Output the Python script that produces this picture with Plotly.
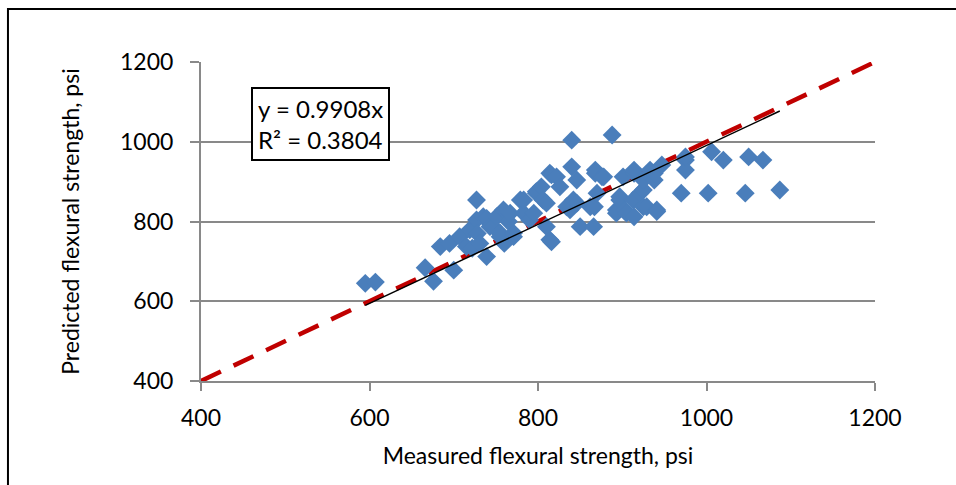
import plotly.graph_objects as go

measured = [595, 607, 666, 676, 684, 695, 700, 707, 715, 719, 722, 727, 727, 728, 731, 735,
            739, 739, 743, 747, 751, 755, 755, 759, 760, 765, 767, 771, 771, 779, 783, 783,
            790, 795, 798, 798, 804, 806, 810, 810, 814, 816, 814, 816, 822, 826, 834, 838,
            840, 840, 842, 846, 846, 850, 862, 866, 867, 868, 868, 870, 876, 878, 888, 893,
            893, 897, 897, 901, 903, 905, 913, 914, 914, 914, 921, 925, 925, 925, 929, 933,
            938, 938, 941, 941, 947, 970, 975, 975, 975, 1002, 1006, 1020, 1046, 1050, 1067, 1087]
predicted = [645, 648, 684, 650, 737, 745, 678, 762, 737, 779, 733, 854, 804, 770, 745, 812,
             712, 808, 787, 787, 812, 762, 771, 829, 745, 800, 821, 762, 771, 854, 821, 854,
             804, 821, 871, 875, 887, 854, 846, 787, 754, 749, 921, 917, 912, 887, 837, 829,
             1004, 937, 854, 904, 846, 787, 837, 787, 837, 929, 921, 871, 912, 912, 1017, 829,
             821, 854, 862, 912, 829, 821, 854, 812, 921, 929, 871, 837, 879, 904, 837, 929,
             904, 921, 829, 825, 942, 871, 954, 929, 962, 871, 975, 954, 871, 962, 954, 879]

slope = 0.9908
r2 = 0.3804
x_ticks = [400, 600, 800, 1000, 1200]
y_ticks = [400, 600, 800, 1000, 1200]
axis_range = [400, 1200]

FONT = "Lato"
FS = 23
GRID = "#898989"

fig = go.Figure()

# 1:1 line (red dashed)
fig.add_trace(go.Scatter(
    x=axis_range, y=axis_range, mode="lines",
    line=dict(color="#C00000", width=4.5, dash="22px,14px"),
    hoverinfo="skip", showlegend=False))

# data points
fig.add_trace(go.Scatter(
    x=measured, y=predicted, mode="markers",
    marker=dict(symbol="diamond", size=14.5, color="#4A7EBB", line=dict(width=0)),
    showlegend=False))

# linear trendline through origin
x_lo, x_hi = min(measured), max(measured)
fig.add_trace(go.Scatter(
    x=[x_lo, x_hi], y=[slope * x_lo, slope * x_hi], mode="lines",
    line=dict(color="black", width=1.5),
    hoverinfo="skip", showlegend=False))

fig.update_layout(
    width=956, height=485,
    margin=dict(l=201, r=81, t=62, b=104),
    paper_bgcolor="white", plot_bgcolor="white",
    font=dict(family=FONT, size=FS, color="black"),
    xaxis=dict(range=axis_range, tickvals=x_ticks, showgrid=False, zeroline=False,
               showline=True, linecolor=GRID, linewidth=2,
               ticks="outside", ticklen=8, tickcolor=GRID, tickwidth=2,
               ticklabelstandoff=7,
               tickfont=dict(family=FONT, size=FS),
               title=dict(text="Measured flexural strength, psi", font=dict(family=FONT, size=FS),
                          standoff=18)),
    yaxis=dict(range=axis_range, tickvals=y_ticks, showgrid=True, gridcolor=GRID, gridwidth=2,
               zeroline=False, showline=True, linecolor=GRID, linewidth=2,
               ticks="outside", ticklen=9, tickcolor=GRID, tickwidth=2,
               ticklabelstandoff=12,
               tickfont=dict(family=FONT, size=FS),
               title=dict(text="Predicted flexural strength, psi", font=dict(family=FONT, size=FS),
                          standoff=34)),
    annotations=[dict(
        x=0.178, y=0.807, xref="paper", yref="paper", xanchor="center", yanchor="middle",
        text=f"y = {slope}x<br>R² = {r2}", showarrow=False, align="left",
        font=dict(family=FONT, size=24, color="black"),
        bordercolor="black", borderwidth=2, borderpad=5, bgcolor="white")],
    shapes=[dict(type="rect", xref="paper", yref="paper",
                 x0=-0.2864, x1=1.2, y0=-0.4, y1=1.166,
                 line=dict(color="black", width=2), layer="below")],
)

fig.write_html("out.html")
